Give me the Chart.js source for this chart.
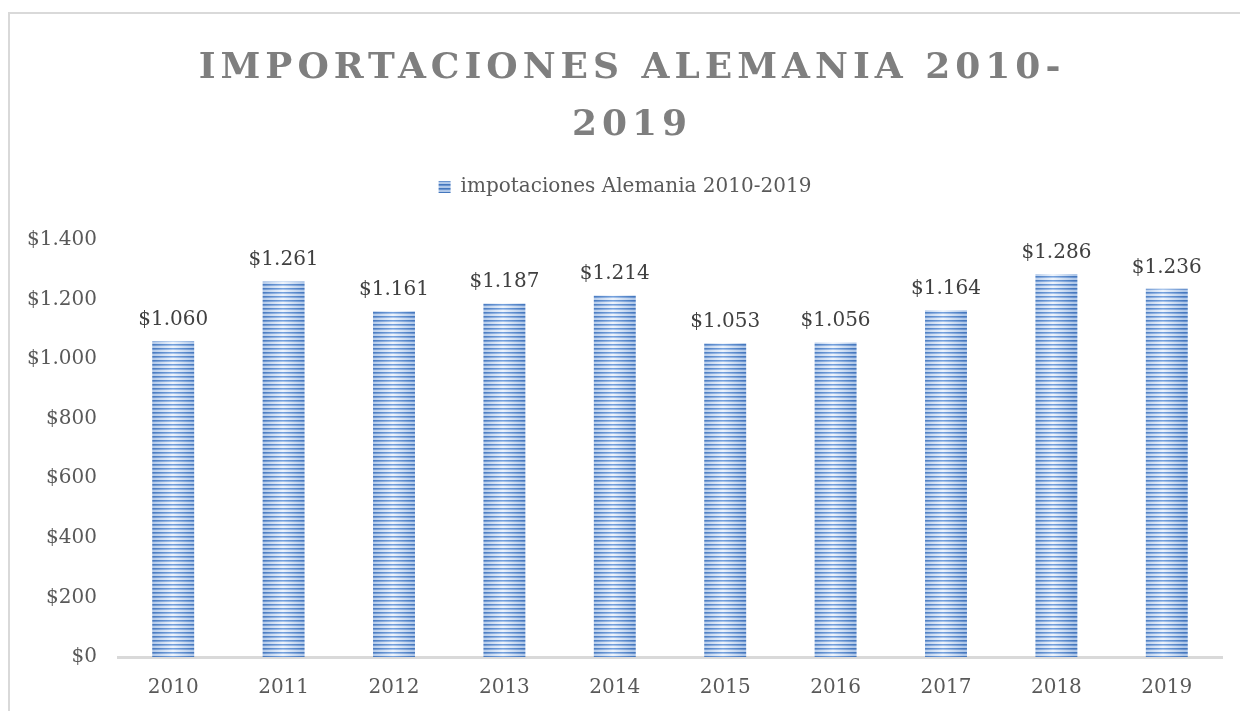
<!DOCTYPE html>
<html>
<head>
<meta charset="utf-8">
<title>Importaciones Alemania 2010-2019</title>
<script src="https://cdn.jsdelivr.net/npm/chart.js@4.4.1/dist/chart.umd.min.js"></script>
<style>
  html, body { margin: 0; padding: 0; background: #fff; overflow: hidden; }
  #marco { position: absolute; left: 8px; top: 12px; width: 1300px; height: 800px;
           border-left: 2px solid #d9d9d9; border-top: 2px solid #d9d9d9; }
  #lienzo { position: absolute; left: 0; top: 0; width: 1240px; height: 711px; }
</style>
</head>
<body>
<div id="marco"></div>
<div id="lienzo"><canvas id="myChart" width="1240" height="711"></canvas></div>
<script>
// datos
const titulo = ["IMPORTACIONES ALEMANIA 2010-", "2019"];
const serie = "impotaciones Alemania 2010-2019";
const anios = ["2010", "2011", "2012", "2013", "2014", "2015", "2016", "2017", "2018", "2019"];
const importaciones = [1060, 1261, 1161, 1187, 1214, 1053, 1056, 1164, 1286, 1236];
const ejeY = { min: 0, max: 1400, paso: 200 };

const fuente = "'DejaVu Serif', 'Liberation Serif', serif";
const pesos = v => "$" + String(v).replace(/\B(?=(\d{3})+(?!\d))/g, ".");

// relleno rayado de las barras (una baldosa por categoria)
let patron = null, patronW = 0, patronX = 0;
function franja(g, mid, half, borde, centro) {
    const gr = g.createLinearGradient(mid - half, 0, mid + half, 0);
    gr.addColorStop(0, borde);
    gr.addColorStop(0.5, centro);
    gr.addColorStop(1, borde);
    return gr;
}
function rayado(c) {
    const a = c.chart.chartArea;
    if (!a) return "#5b8bd0";
    const w = (a.right - a.left) / anios.length;
    if (patron && patronW === w && patronX === a.left) return patron;
    const t = document.createElement("canvas");
    t.width = Math.round(w); t.height = 4;
    const g = t.getContext("2d");
    const mid = t.width / 2, half = t.width * 0.19;
    g.fillStyle = franja(g, mid, half, "#4577bd", "#76a2dd"); g.fillRect(0, 0, t.width, 1);
    g.fillStyle = franja(g, mid, half, "#6b94cf", "#a9c6ec"); g.fillRect(0, 1, t.width, 1);
    g.fillStyle = franja(g, mid, half, "#b0c8e9", "#eef4fc"); g.fillRect(0, 2, t.width, 2);
    patron = g.createPattern(t, "repeat");
    patron.setTransform(new DOMMatrix([1, 0, 0, 1, a.left, 0]));
    patronW = w; patronX = a.left;
    return patron;
}

// titulo con letras espaciadas
const tituloEspaciado = {
    id: "tituloEspaciado",
    afterDraw(chart) {
        const ctx = chart.ctx;
        ctx.save();
        ctx.font = "bold 36px " + fuente;
        ctx.letterSpacing = "5px";
        ctx.fillStyle = "#7f7f7f";
        ctx.textAlign = "center";
        ctx.textBaseline = "alphabetic";
        titulo.forEach((t, i) => ctx.fillText(t, 632, 78 + i * 57));
        ctx.restore();
    }
};

// valores encima de cada barra
const etiquetas = {
    id: "etiquetas",
    afterDatasetsDraw(chart) {
        const ctx = chart.ctx;
        ctx.save();
        ctx.font = "20px " + fuente;
        ctx.fillStyle = "#404040";
        ctx.textAlign = "center";
        ctx.textBaseline = "alphabetic";
        chart.getDatasetMeta(0).data.forEach((bar, i) => {
            ctx.fillText(pesos(importaciones[i]), bar.x, bar.y - 16);
        });
        ctx.restore();
    }
};

// espacio entre la leyenda y el grafico
const margenLeyenda = {
    id: "margenLeyenda",
    afterInit(chart) {
        const l = chart.legend;
        const fit = l.fit.bind(l);
        l.fit = function () { fit(); this.height += 33; };
    }
};

var ctx = document.getElementById("myChart").getContext("2d");
var chart = new Chart(ctx, {
    type: "bar",
    data: {
        labels: anios,
        datasets: [{
            label: serie,
            data: importaciones,
            backgroundColor: rayado,
            borderWidth: 0,
            barPercentage: 0.38,
            categoryPercentage: 1
        }]
    },
    options: {
        responsive: false,
        animation: false,
        layout: { padding: { left: 28, right: 18, top: 167, bottom: 11 } },
        plugins: {
            legend: {
                position: "top",
                labels: { boxWidth: 12, boxHeight: 12, padding: 10, color: "#595959", font: { family: fuente, size: 20 } }
            },
            tooltip: { enabled: false }
        },
        scales: {
            x: {
                grid: { display: false, drawTicks: false },
                border: { display: true, color: "#d9d9d9", width: 3 },
                ticks: { color: "#595959", padding: 19, font: { family: fuente, size: 20 } },
                afterFit: s => { s.height = 43; }
            },
            y: {
                min: ejeY.min,
                max: ejeY.max,
                grid: { display: false, drawTicks: false },
                border: { display: false },
                ticks: { stepSize: ejeY.paso, padding: 21, color: "#595959", font: { family: fuente, size: 20 },
                         callback: v => pesos(v) },
                afterFit: s => { s.width = 90; }
            }
        }
    },
    plugins: [margenLeyenda, etiquetas, tituloEspaciado]
});
</script>
</body>
</html>
